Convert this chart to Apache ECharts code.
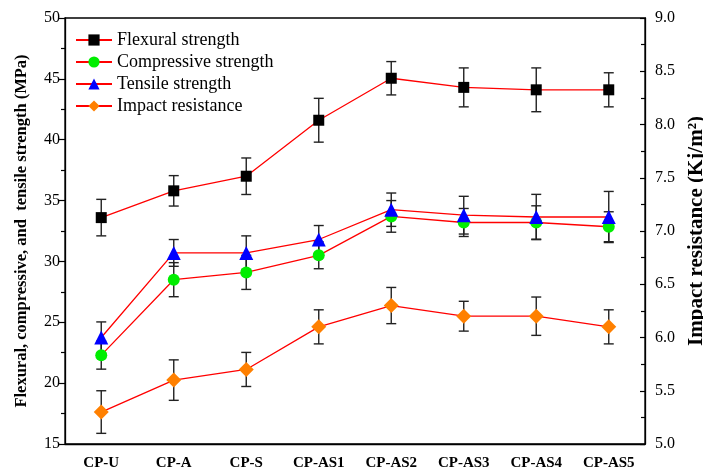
<!DOCTYPE html>
<html lang="en">

<head>
    <meta charset="UTF-8">
    <title>strength-chart</title>
    <script src="https://cdn.jsdelivr.net/npm/echarts@6/dist/echarts.min.js"></script>
</head>
<style>
    body {
        margin: 0;
    }
</style>

<body>
    <div id="main" style="width: 703px;height:470px;"></div>
</body>
<script>
    var categories = ["CP-U", "CP-A", "CP-S", "CP-AS1", "CP-AS2", "CP-AS3", "CP-AS4", "CP-AS5"];

    var flexural = [33.6, 35.8, 37.0, 41.6, 45.05, 44.3, 44.1, 44.1];
    var flexuralErr = [1.5, 1.25, 1.5, 1.8, 1.37, 1.6, 1.8, 1.4];

    var compressive = [22.3, 28.5, 29.1, 30.5, 33.7, 33.2, 33.2, 32.85];
    var compressiveErr = [1.15, 1.4, 1.4, 1.1, 1.3, 1.15, 1.37, 1.23];

    var tensile = [23.75, 30.7, 30.7, 31.8, 34.25, 33.8, 33.65, 33.65];
    var tensileErr = [1.28, 1.1, 1.4, 1.15, 1.37, 1.55, 1.86, 2.1];

    var impact = [5.3, 5.6, 5.7, 6.1, 6.3, 6.2, 6.2, 6.1];
    var impactErr = [0.2, 0.19, 0.16, 0.16, 0.17, 0.14, 0.18, 0.16];

    var leftTicks = [15, 20, 25, 30, 35, 40, 45, 50];
    var rightTicks = [5.0, 5.5, 6.0, 6.5, 7.0, 7.5, 8.0, 8.5, 9.0];

    var font = "Liberation Serif";
    var chart = echarts.init(document.getElementById('main'));

    // error bar data: [index, low, high]
    function errData(vals, errs) {
        return vals.map((v, i) => [i, v - errs[i], v + errs[i]]);
    }

    function errorBars(name, vals, errs, axisIndex) {
        return {
            name: name + "-err",
            type: 'custom',
            yAxisIndex: axisIndex,
            z: 1,
            silent: true,
            renderItem: function (params, api) {
                var lo = api.coord([api.value(0), api.value(1)]);
                var hi = api.coord([api.value(0), api.value(2)]);
                var w = 5;
                var st = { stroke: '#222', lineWidth: 1.4 };
                return {
                    type: 'group',
                    children: [
                        { type: 'line', shape: { x1: hi[0], y1: hi[1], x2: lo[0], y2: lo[1] }, style: st },
                        { type: 'line', shape: { x1: hi[0] - w, y1: hi[1], x2: hi[0] + w, y2: hi[1] }, style: st },
                        { type: 'line', shape: { x1: lo[0] - w, y1: lo[1], x2: lo[0] + w, y2: lo[1] }, style: st }
                    ]
                };
            },
            encode: { x: 0, y: [1, 2] },
            data: errData(vals, errs)
        };
    }

    function lineSeries(name, vals, symbol, size, color, axisIndex) {
        return {
            name: name,
            type: 'line',
            yAxisIndex: axisIndex,
            data: vals,
            symbol: symbol,
            symbolSize: size,
            showAllSymbol: true,
            z: 3,
            lineStyle: { color: 'red', width: 1.3 },
            itemStyle: { color: color, borderWidth: 0 }
        };
    }

    var option = {
        animation: false,
        grid: {
            left: 65,
            right: 58,
            top: 18,
            bottom: 26,
            outerBoundsMode: 'none',
            containLabel: false,
            show: true,
            borderColor: '#000',
            borderWidth: 1.3
        },
        legend: {
            orient: 'vertical',
            left: 70,
            top: 26,
            itemGap: 4,
            itemWidth: 36,
            itemHeight: 14,
            data: ["Flexural strength", "Compressive strength", "Tensile strength", "Impact resistance"],
            textStyle: { fontFamily: font, fontSize: 18, color: '#000' }
        },
        xAxis: {
            type: 'category',
            data: categories,
            axisLine: { lineStyle: { color: '#000', width: 1.3 } },
            axisTick: { show: false },
            axisLabel: { fontFamily: font, fontSize: 15, fontWeight: 'bold', color: '#000', margin: 12 }
        },
        yAxis: [
            {
                type: 'value',
                min: leftTicks[0],
                max: leftTicks[leftTicks.length - 1],
                interval: 5,
                name: "Flexural, compressive, and  tensile strength (MPa)",
                nameLocation: 'middle',
                nameGap: 35,
                nameTextStyle: { fontFamily: font, fontSize: 16.5, fontWeight: 'bold', color: '#000' },
                splitLine: { show: false },
                axisLine: { show: true, lineStyle: { color: '#000', width: 1.3 } },
                axisTick: { show: true, length: 7, lineStyle: { color: '#000', width: 1.2 } },
                minorTick: { show: true, splitNumber: 2, length: 4, lineStyle: { color: '#000', width: 1.2 } },
                axisLabel: { fontFamily: font, fontSize: 16, color: '#000', margin: 5 }
            },
            {
                type: 'value',
                min: rightTicks[0],
                max: rightTicks[rightTicks.length - 1],
                interval: 0.5,
                position: 'right',
                name: "Impact resistance (Kj/m²)",
                nameLocation: 'middle',
                nameGap: 40,
                nameRotate: 90,
                nameTextStyle: { fontFamily: font, fontSize: 21, fontWeight: 'bold', color: '#000' },
                splitLine: { show: false },
                axisLine: { show: true, lineStyle: { color: '#000', width: 1.3 } },
                axisTick: { show: true, inside: true, length: 5, lineStyle: { color: '#000', width: 1.2 } },
                minorTick: { show: true, splitNumber: 2, length: 4, lineStyle: { color: '#000', width: 1.2 } },
                axisLabel: {
                    fontFamily: font, fontSize: 16, color: '#000', margin: 10,
                    formatter: (v) => v.toFixed(1)
                }
            }
        ],
        series: [
            errorBars("Flexural strength", flexural, flexuralErr, 0),
            errorBars("Compressive strength", compressive, compressiveErr, 0),
            errorBars("Tensile strength", tensile, tensileErr, 0),
            errorBars("Impact resistance", impact, impactErr, 1),
            lineSeries("Flexural strength", flexural, 'rect', 11, '#000', 0),
            lineSeries("Compressive strength", compressive, 'circle', 12, '#00ee00', 0),
            lineSeries("Tensile strength", tensile, 'triangle', 14, '#0000ff', 0),
            lineSeries("Impact resistance", impact, 'diamond', 15, '#ff8000', 1)
        ]
    };

    chart.setOption(option);
</script>

</html>
